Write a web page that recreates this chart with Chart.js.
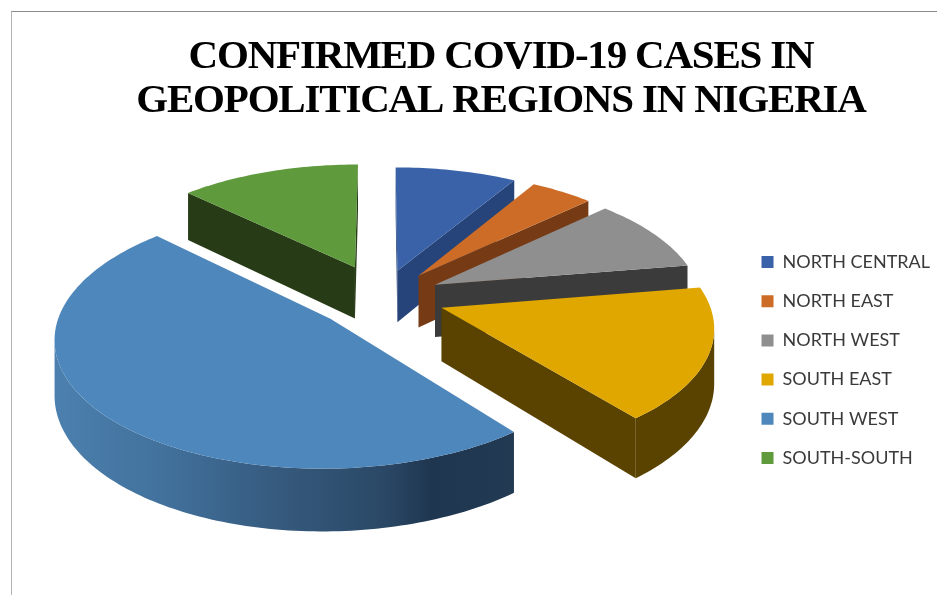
<!DOCTYPE html>
<html>
<head>
<meta charset="utf-8">
<title>Confirmed COVID-19 cases in geopolitical regions in Nigeria</title>
<script src="https://cdn.jsdelivr.net/npm/chart.js@4/dist/chart.umd.min.js"></script>
<style>
  html, body { margin: 0; padding: 0; background: #fff; overflow: hidden; width: 937px; height: 595px; }
  #frame { position: absolute; left: 11px; top: 11px; width: 1000px; height: 720px;
           border-left: 1px solid #b4b4b4; border-top: 1px solid #8a8a8a; }
  canvas { display: block; }
</style>
</head>
<body>
<div id="frame"><canvas id="chart" width="978" height="696"></canvas></div>
<script>
// Regional shares of confirmed cases (percent)
const regions = ['NORTH CENTRAL', 'NORTH EAST', 'NORTH WEST', 'SOUTH EAST', 'SOUTH WEST', 'SOUTH-SOUTH'];
const shares = [8.5, 4.4, 9.5, 16.9, 48.0, 12.7];
const topColors = ['#3a62a9', '#cc6c26', '#8f8f8f', '#dfa700', '#4e87bb', '#5f9a3d'];
const wallColors = ['#27447a', '#763b15', '#3b3b3b', '#5a4300', '#2f5170', '#263b16'];
const explode = [60, 60, 60, 63, 68, 72];
const titleLines = ['CONFIRMED COVID-19 CASES IN', 'GEOPOLITICAL REGIONS IN NIGERIA'];

// Camera used to lay the pie on its side
const VIEW = { cx: 370, cy: 285, tilt: 0.465, distance: 2000, depth: 53 };
// Shading along the curved wall of the largest slice, left to right
const SHADED_WALL_INDEX = 4;
const SHADED_WALL_STOPS = [[0, '#4c80ae'], [0.25, '#41709b'], [0.5, '#35597c'], [0.72, '#2a4866'], [0.82, '#1f3650'], [1, '#223a52']];

function project(x, y, h) {
  const s = VIEW.distance / (VIEW.distance - y);
  return { x: VIEW.cx + x * s, y: VIEW.cy + (y * VIEW.tilt + h) * s };
}

function fillPolygon(ctx, pts, fill) {
  ctx.beginPath();
  pts.forEach((p, i) => (i ? ctx.lineTo(p.x, p.y) : ctx.moveTo(p.x, p.y)));
  ctx.closePath();
  ctx.fillStyle = fill;
  ctx.fill();
}

// A pie whose arcs are extruded and drawn in perspective
class Pie3DController extends Chart.PieController {
  draw() {
    const ctx = this.chart.ctx;
    const slices = this._cachedMeta.data.map((arc, index) => {
      const { startAngle, endAngle, outerRadius } = arc.getProps(['startAngle', 'endAngle', 'outerRadius']);
      const mid = (startAngle + endAngle) / 2;
      const off = arc.options.offset;
      return { index, arc, startAngle, endAngle, outerRadius,
               ox: Math.cos(mid) * off, oy: Math.sin(mid) * off };
    });
    slices.sort((a, b) => a.oy - b.oy);

    ctx.save();
    slices.forEach(s => {
      const steps = Math.max(8, Math.ceil((s.endAngle - s.startAngle) / 0.02));
      const rim = [];
      for (let i = 0; i <= steps; i++) {
        const a = s.startAngle + (s.endAngle - s.startAngle) * i / steps;
        rim.push([s.ox + Math.cos(a) * s.outerRadius, s.oy + Math.sin(a) * s.outerRadius]);
      }
      const tip = [s.ox, s.oy];
      const wall = wallColors[s.index];
      const at = (p, h) => project(p[0], p[1], h);
      const d = VIEW.depth;

      // Walls are visible where the clockwise outline runs leftwards on screen
      const first = rim[0], last = rim[steps];
      if (at(first, 0).x < at(tip, 0).x) {
        fillPolygon(ctx, [at(tip, 0), at(first, 0), at(first, d), at(tip, d)], wall);
      }
      let run = [];
      const flush = () => {
        if (run.length > 1) {
          const pts = run.map(p => at(p, 0)).concat(run.slice().reverse().map(p => at(p, d)));
          let fill = wall;
          if (s.index === SHADED_WALL_INDEX) {
            const xs = pts.map(p => p.x);
            const g = ctx.createLinearGradient(Math.min(...xs), 0, Math.max(...xs), 0);
            SHADED_WALL_STOPS.forEach(([t, c]) => g.addColorStop(t, c));
            fill = g;
          }
          fillPolygon(ctx, pts, fill);
        }
        run = [];
      };
      for (let i = 0; i < steps; i++) {
        if (at(rim[i + 1], 0).x < at(rim[i], 0).x) {
          if (!run.length) run.push(rim[i]);
          run.push(rim[i + 1]);
        } else {
          flush();
        }
      }
      flush();
      if (at(tip, 0).x < at(last, 0).x) {
        fillPolygon(ctx, [at(last, 0), at(tip, 0), at(tip, d), at(last, d)], wall);
      }

      // Top face
      fillPolygon(ctx, [at(tip, 0)].concat(rim.map(p => at(p, 0))), s.arc.options.backgroundColor);
    });
    ctx.restore();
  }
}
Pie3DController.id = 'pie3d';
Pie3DController.defaults = {};
Chart.register(Pie3DController);

// Tightens the tracking of the two-line heading only
const tightTitle = {
  id: 'tightTitle',
  beforeDraw(chart) {
    const block = chart.titleBlock;
    if (block._tight) return;
    const drawTitle = block.draw;
    block.draw = function () {
      chart.ctx.save();
      chart.ctx.letterSpacing = '-1.2px';
      drawTitle.call(block);
      chart.ctx.restore();
    };
    block._tight = true;
  }
};

new Chart(document.getElementById('chart'), {
  type: 'pie3d',
  data: {
    labels: regions,
    datasets: [{
      data: shares,
      backgroundColor: topColors,
      offset: explode,
      radius: 266,
      borderWidth: 0
    }]
  },
  plugins: [tightTitle],
  options: {
    responsive: false,
    maintainAspectRatio: false,
    animation: false,
    layout: { padding: { left: 50, right: 50 } },
    plugins: {
      tooltip: { enabled: false },
      title: {
        display: true,
        text: titleLines,
        color: '#000',
        font: { family: '"Liberation Serif"', size: 41, weight: 'bold', lineHeight: 1.085 },
        padding: { top: 23, bottom: 0 }
      },
      legend: {
        display: true,
        position: 'right',
        labels: {
          color: '#3a3a3a',
          font: { family: 'Lato', size: 18 },
          boxWidth: 12,
          boxHeight: 12,
          padding: 21.2
        }
      }
    }
  }
});
</script>
</body>
</html>
